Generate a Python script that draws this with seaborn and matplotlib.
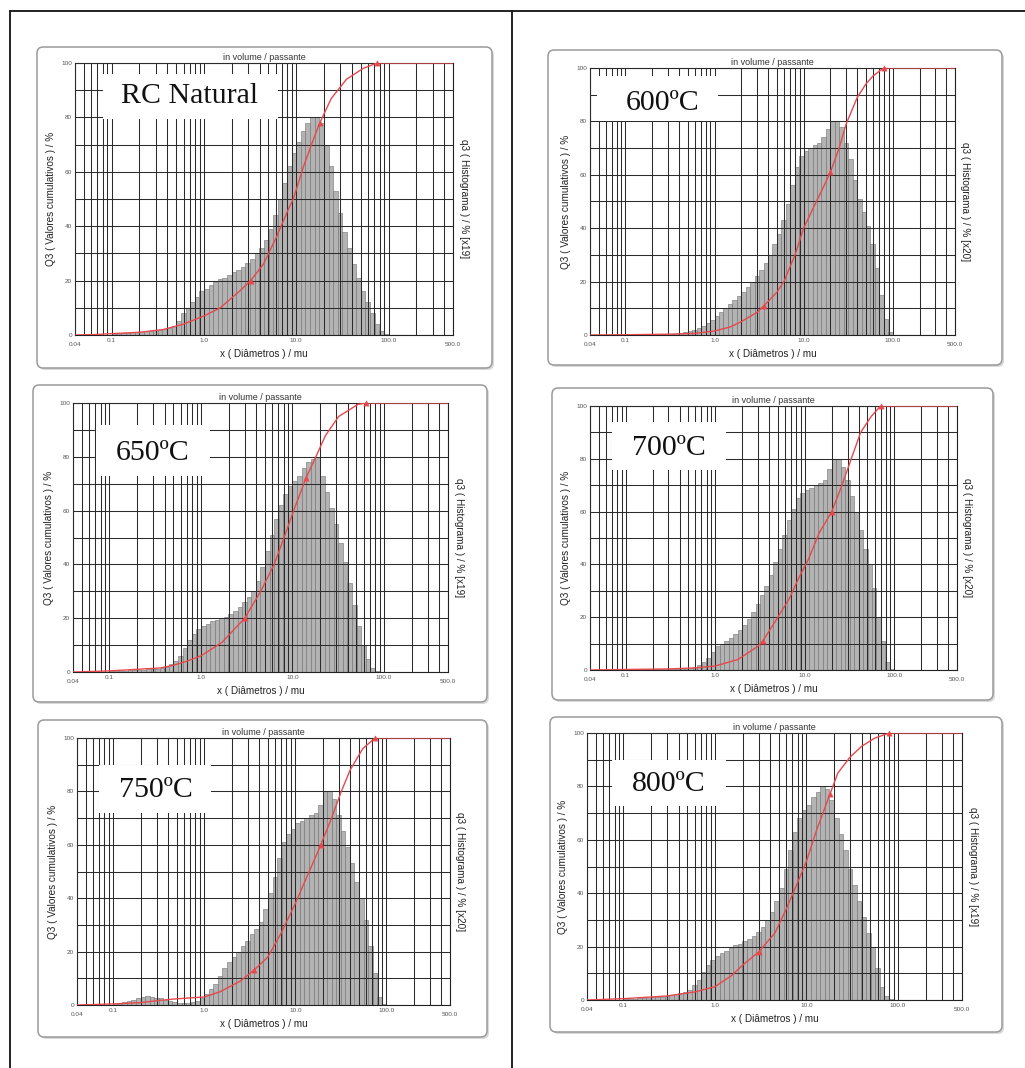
import numpy as np
import pandas as pd
import matplotlib
matplotlib.use("Agg")
import matplotlib.pyplot as plt
import seaborn as sns
from matplotlib.patches import FancyBboxPatch, Rectangle
from matplotlib.lines import Line2D
from matplotlib.ticker import FixedLocator, FixedFormatter, NullFormatter

# ---------------- data ----------------
# particle size classes (µm) of the analyser, 20 classes per decade, 0.1 .. 119 µm
class_um = [0.106, 0.119, 0.133, 0.150, 0.168, 0.188, 0.211, 0.237, 0.266, 0.299,
            0.335, 0.376, 0.422, 0.473, 0.531, 0.596, 0.668, 0.750, 0.841, 0.944,
            1.06, 1.19, 1.33, 1.50, 1.68, 1.88, 2.11, 2.37, 2.66, 2.99,
            3.35, 3.76, 4.22, 4.73, 5.31, 5.96, 6.68, 7.50, 8.41, 9.44,
            10.6, 11.9, 13.3, 15.0, 16.8, 18.8, 21.1, 23.7, 26.6, 29.9,
            33.5, 37.6, 42.2, 47.3, 53.1, 59.6, 66.8, 75.0, 84.1, 94.4,
            106, 119]

# histogram heights (q3, drawn on the 0-100 scale) per class
hist_nat = [0.5, 0.5, 0.7, 0.8, 1.0, 1.0, 1.2, 1.4, 1.6, 1.8,
            2.0, 2.3, 2.7, 3.2, 5, 8, 10, 12, 14, 16,
            17, 18.5, 19.5, 20.5, 21, 22, 23, 24, 25, 26.5,
            28, 30, 32, 35, 39, 44, 50, 56, 62, 67,
            71, 75, 78, 80, 80, 78, 70, 62, 53, 45,
            38, 32, 26, 21, 16, 12, 8, 4, 1.5, 0.3,
            0, 0]
hist_600 = [0.3, 0.3, 0.3, 0.3, 0.3, 0.3, 0.5, 0.5, 0.5, 0.5,
            0.5, 0.5, 0.7, 1.0, 1.5, 2, 2.8, 3.5, 4.5, 5.5,
            7, 8.5, 10, 11.5, 13, 14.5, 16, 18, 20, 22,
            24.5, 27, 30, 34, 38, 43, 49, 56, 63, 67,
            69, 70, 71, 72, 74, 77, 80, 80, 78, 72,
            66, 58, 51, 46, 41, 34, 25, 15, 6, 1,
            0, 0]
hist_650 = [0.3, 0.3, 0.4, 0.5, 0.6, 0.7, 0.8, 0.9, 1.0, 1.1,
            1.3, 1.6, 2, 3, 4, 6, 9, 12, 14, 16,
            17, 18, 19, 19.5, 20, 20.5, 21.5, 22.5, 24, 26,
            28, 30, 34, 39, 45, 51, 57, 62, 66, 69,
            71, 73, 76, 78, 79, 80, 73, 67, 61, 55,
            48, 41, 33, 25, 17, 10, 5, 1.5, 0.3, 0,
            0, 0]
hist_700 = [0.2, 0.2, 0.2, 0.2, 0.2, 0.2, 0.2, 0.2, 0.2, 0.2,
            0.2, 0.2, 0.2, 0.5, 0.8, 1.2, 2, 3, 4.5, 7,
            9, 10, 11, 12, 13.5, 15, 17, 19.5, 22, 25,
            28.5, 32, 36, 41, 46, 51, 57, 61, 65, 67,
            68, 69, 70, 71, 72, 76, 80, 80, 77, 72,
            66, 60, 53, 46, 40, 31, 20, 11, 3, 0.5,
            0, 0]
hist_750 = [0.3, 0.5, 1.0, 1.5, 2, 2.5, 3, 3.2, 3, 2.8,
            2.5, 2, 1.5, 1.0, 0.8, 0.6, 0.6, 1.0, 1.5, 2.5,
            4, 6, 8, 11, 14, 16, 18, 20, 22, 24,
            26.5, 28.5, 31, 36, 42, 48, 55, 61, 64, 66,
            68, 69, 70, 71, 72, 75, 80, 80, 77, 71,
            65, 59, 53, 46, 40, 32, 22, 12, 3, 0.5,
            0, 0]
hist_800 = [0.3, 0.4, 0.5, 0.6, 0.7, 0.8, 1.0, 1.1, 1.3, 1.5,
            1.8, 2.2, 2.6, 3, 3.8, 5.5, 7.5, 10.5, 13, 15,
            16.5, 17.5, 18.5, 19.5, 20.5, 21, 22, 23, 24, 25.5,
            27.5, 30, 33, 37, 42, 49, 56, 63, 68, 71,
            73, 76, 78, 80, 79, 75, 68, 62, 56, 49,
            43, 37, 31, 25, 20, 12, 5, 1.5, 0.3, 0,
            0, 0]

# cumulative curves Q3 (%)
cum_x_nat = [0.04, 0.07, 0.1, 0.2, 0.36, 0.6, 1.0, 1.5, 1.9, 2.5, 3.2, 4.4, 6.1, 8.4, 9.3, 12, 15, 18, 24, 35, 53, 75, 500]
cum_y_nat = [0, 0.2, 0.5, 1.0, 2, 4, 7, 10, 13, 16.5, 20, 26, 36, 47, 50, 62, 71, 78, 87, 94, 98, 100, 100]
cum_x_600 = [0.04, 0.1, 0.3, 0.6, 1.0, 1.5, 2.0, 3.0, 3.6, 5, 6, 8, 10, 13, 17, 20, 25, 30, 40, 50, 60, 79, 500]
cum_y_600 = [0, 0.1, 0.3, 0.6, 1.5, 3, 5, 8.5, 11, 16, 20, 30, 40, 48, 56, 61, 70, 79, 89, 94, 97, 100, 100]
cum_x_650 = [0.04, 0.1, 0.2, 0.36, 0.5, 0.7, 1.0, 1.7, 3.0, 4.5, 6.3, 8.1, 10.3, 14, 18, 23, 32, 52, 64, 500]
cum_y_650 = [0, 0.4, 1, 1.5, 2.5, 4, 6, 11, 20, 30, 40, 50, 60, 72, 80, 88, 95, 99.5, 100, 100]
cum_x_700 = [0.04, 0.1, 0.3, 0.6, 1.0, 1.8, 3.0, 3.4, 4.6, 6.7, 8.6, 11, 14.5, 20, 26, 30, 33, 42, 55, 70, 500]
cum_y_700 = [0, 0.2, 0.4, 0.8, 1.5, 4, 9, 11, 18, 27, 35, 42, 52, 60, 70, 76, 80, 90, 96, 100, 100]
cum_x_750 = [0.04, 0.1, 0.2, 0.3, 0.45, 0.6, 1.0, 1.5, 2.5, 3.5, 5, 7, 10, 13, 18, 25, 32, 40, 55, 75, 500]
cum_y_750 = [0, 0.4, 0.9, 1.6, 2.2, 2.5, 3, 5, 9, 13, 18, 27, 38, 47, 58, 70, 80, 88, 96, 100, 100]
cum_x_800 = [0.04, 0.1, 0.3, 0.6, 1.0, 1.5, 2.0, 3.0, 4.5, 6, 8, 10, 13, 18, 22, 30, 40, 55, 80, 500]
cum_y_800 = [0, 0.5, 1.5, 3, 5, 9, 13, 18, 25, 34, 44, 52, 64, 77, 85, 91, 95, 98, 100, 100]

# triangle markers on the cumulative curves
mark_x_nat, mark_y_nat = [3.2, 18, 75], [20, 78, 100]
mark_x_600, mark_y_600 = [3.6, 20, 79], [11, 61, 100]
mark_x_650, mark_y_650 = [3.0, 14, 64], [20, 72, 100]
mark_x_700, mark_y_700 = [3.4, 20, 70], [11, 60, 100]
mark_x_750, mark_y_750 = [3.5, 19, 75], [13, 60, 100]
mark_x_800, mark_y_800 = [3.0, 18, 80], [18, 77, 100]

panel_titles = ["RC Natural", "600ºC", "650ºC", "700ºC", "750ºC", "800ºC"]
hist_factor = ["[x19]", "[x20]", "[x19]", "[x20]", "[x20]", "[x19]"]

xtick_vals = [0.04, 0.1, 1.0, 10.0, 100.0, 500.0]
xtick_labels = ["0.04", "0.1", "1.0", "10.0", "100.0", "500.0"]
ytick_vals = [0, 20, 40, 60, 80, 100]
ytick_labels = ["0", "20", "40", "60", "80", "100"]

# ---------------- layout ----------------
W, H = 1025, 1068
sns.set_style("white")
plt.rcParams['font.family'] = ['Liberation Sans', 'DejaVu Sans']

fig = plt.figure(figsize=(W / 100, H / 100), dpi=100)
fig.patch.set_facecolor('white')

def fx(px):
    return px / W

def fy(py):
    return 1 - py / H

# table frame lines
for (x0, y0, x1, y1) in [(10, 11, 1025, 11), (10, 11, 10, 1068), (512, 11, 512, 1068)]:
    fig.add_artist(Line2D([fx(x0), fx(x1)], [fy(y0), fy(y1)], color='#111111', lw=1.3))

# (axes l, r, t, b), (box l, r, t, b), label box (x0, x1, y0, y1), label centre (x, y)
layout = [
    ((75, 453, 63, 335), (37, 492, 47, 368), (0.075, 0.537, 0.795, 0.96), (0.302, 0.877)),
    ((590, 955, 68, 335), (548, 1002, 50, 365), (0.02, 0.35, 0.80, 0.97), (0.20, 0.87)),
    ((73, 448, 403, 672), (33, 487, 385, 702), (0.062, 0.364, 0.73, 0.92), (0.213, 0.814)),
    ((590, 957, 406, 670), (552, 993, 388, 700), (0.06, 0.37, 0.757, 0.94), (0.216, 0.84)),
    ((77, 450, 738, 1005), (38, 487, 720, 1037), (0.058, 0.36, 0.72, 0.90), (0.212, 0.804)),
    ((587, 962, 733, 1000), (550, 1002, 717, 1032), (0.067, 0.37, 0.725, 0.90), (0.218, 0.81)),
]

hists = [hist_nat, hist_600, hist_650, hist_700, hist_750, hist_800]
cums = [(cum_x_nat, cum_y_nat), (cum_x_600, cum_y_600), (cum_x_650, cum_y_650),
        (cum_x_700, cum_y_700), (cum_x_750, cum_y_750), (cum_x_800, cum_y_800)]
marks = [(mark_x_nat, mark_y_nat), (mark_x_600, mark_y_600), (mark_x_650, mark_y_650),
         (mark_x_700, mark_y_700), (mark_x_750, mark_y_750), (mark_x_800, mark_y_800)]

minor_x = [0.05, 0.06, 0.07, 0.08, 0.09,
           0.2, 0.3, 0.4, 0.5, 0.6, 0.7, 0.8, 0.9,
           2, 3, 4, 5, 6, 7, 8, 9,
           20, 30, 40, 50, 60, 70, 80, 90,
           200, 300, 400]
minor_y = [10, 30, 50, 70, 90]

RED = '#e8474c'

for i in range(6):
    (al, ar, at, ab), (bl, br, bt, bb), lbox, lcen = layout[i]

    # rounded panel frame with a faint shadow
    shadow = FancyBboxPatch((fx(bl + 2), fy(bb + 2)), fx(br - bl), (bb - bt) / H,
                            boxstyle="round,pad=0,rounding_size=0.006",
                            transform=fig.transFigure, fc='#d9d9d9', ec='none', zorder=-3)
    fig.add_artist(shadow)
    box = FancyBboxPatch((fx(bl), fy(bb)), fx(br - bl), (bb - bt) / H,
                         boxstyle="round,pad=0,rounding_size=0.006",
                         transform=fig.transFigure, fc='white', ec='#9a9a9a', lw=1.1, zorder=-2)
    fig.add_artist(box)

    ax = fig.add_axes([fx(al), fy(ab), fx(ar - al), (ab - at) / H])

    df = pd.DataFrame({"size": class_um, "q3": hists[i]})
    sns.histplot(data=df, x="size", weights="q3", bins=82, binrange=(-1.4, 2.7),
                 log_scale=True, ax=ax, color='#b3b3b3', edgecolor='#707070',
                 linewidth=0.4, alpha=1.0, zorder=1)

    cx, cy = cums[i]
    sns.lineplot(x=cx, y=cy, ax=ax, color=RED, lw=1.0, zorder=3, estimator=None)
    mx, my = marks[i]
    sns.scatterplot(x=mx, y=my, ax=ax, color=RED, marker='^', s=14, zorder=4,
                    edgecolor=RED, linewidth=0.4, clip_on=False)

    ax.set_xscale('log')
    ax.set_xlim(0.04, 500)
    ax.set_ylim(0, 100)

    ax.xaxis.set_major_locator(FixedLocator(xtick_vals))
    ax.xaxis.set_major_formatter(FixedFormatter(xtick_labels))
    ax.xaxis.set_minor_locator(FixedLocator(minor_x))
    ax.xaxis.set_minor_formatter(NullFormatter())
    ax.yaxis.set_major_locator(FixedLocator(ytick_vals))
    ax.yaxis.set_major_formatter(FixedFormatter(ytick_labels))
    ax.yaxis.set_minor_locator(FixedLocator(minor_y))
    ax.yaxis.set_minor_formatter(NullFormatter())

    ax.set_axisbelow(False)
    ax.grid(which='both', axis='both', color='#2b2b2b', lw=0.75)
    ax.tick_params(which='both', length=0, labelsize=4.6, labelcolor='#555555', pad=2)
    xt = ax.xaxis.get_major_ticks()
    xt[0].set_pad(5)
    xt[-1].set_pad(5)
    for s in ax.spines.values():
        s.set_color('#222222')
        s.set_linewidth(0.8)

    ax.set_title('in volume / passante', fontsize=6.5, pad=2.5, color='#333333')
    ax.set_xlabel('x ( Diâmetros ) / mu', fontsize=7.2, labelpad=1.5, color='#222222')
    ax.set_ylabel('Q3 ( Valores cumulativos ) / %', fontsize=7.2, labelpad=4, color='#222222')
    ax.text(1.028, 0.5, 'q3 ( Histograma ) / % ' + hist_factor[i], rotation=270,
            transform=ax.transAxes, ha='center', va='center', fontsize=7.2, color='#222222')

    x0, x1, y0, y1 = lbox
    ax.add_patch(Rectangle((x0, y0), x1 - x0, y1 - y0, transform=ax.transAxes,
                           fc='white', ec='none', zorder=5))
    ax.text(lcen[0], lcen[1], panel_titles[i], transform=ax.transAxes, ha='center',
            va='center', fontsize=21.5, family=['Liberation Serif', 'DejaVu Serif'],
            color='#111111', zorder=6)

fig.savefig('out.png', dpi=100, facecolor='white')
